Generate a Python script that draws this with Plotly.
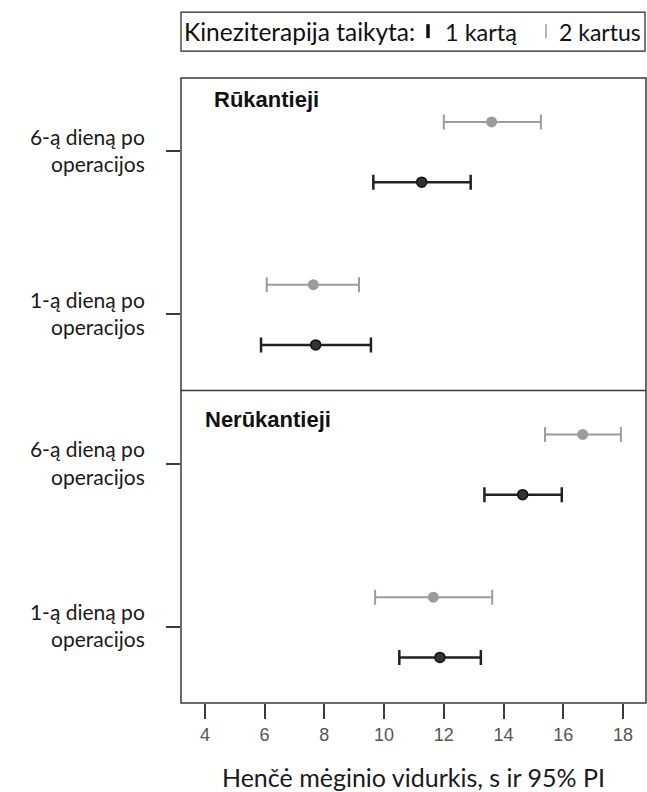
import plotly.graph_objects as go
from plotly.subplots import make_subplots

# ---- data ----
panels = ["Rūkantieji", "Nerūkantieji"]
day_labels = ["1-ą dieną po<br>operacijos", "6-ą dieną po<br>operacijos"]
day_pos = [0, 1]

# Rūkantieji
smk_once_mean = [7.71, 11.26]
smk_once_low = [5.88, 9.64]
smk_once_high = [9.56, 12.90]
smk_twice_mean = [7.63, 13.60]
smk_twice_low = [6.07, 12.00]
smk_twice_high = [9.16, 15.25]

# Nerūkantieji
non_once_mean = [11.87, 14.64]
non_once_low = [10.51, 13.36]
non_once_high = [13.24, 15.95]
non_twice_mean = [11.65, 16.65]
non_twice_low = [9.70, 15.39]
non_twice_high = [13.62, 17.93]

x_ticks = [4, 6, 8, 10, 12, 14, 16, 18]
legend_title = "Kineziterapija taikyta:"
legend_names = ["1 kartą", "2 kartus"]
x_title = "Henčė mėginio vidurkis, s ir 95% PI"

HUM = "Lato, 'Open Sans', sans-serif"
ARI = "'Liberation Sans', Arial, sans-serif"
BLACK = "#222222"
GRAY = "#9c9c9c"
AXC = "#3a3a3a"

W, H = 647, 792
L, R, T, B = 181, 1, 78, 87
PW = W - L - R
PH = H - T - B


def px_x(px):
    return (px - L) / PW


def px_y(py):
    return 1 - (py - T) / PH


fig = make_subplots(rows=2, cols=1, shared_xaxes=True, vertical_spacing=0)


def add_series(row, mean, low, high, kind):
    if kind == "once":
        off, col, lw, msize, mline, fill, lcol = -0.19, BLACK, 2.5, 10, 1.5, "#333333", "#111111"
    else:
        off, col, lw, msize, mline, fill, lcol = 0.18, GRAY, 2.0, 11, 0, GRAY, GRAY
    y = [p + off for p in day_pos]
    plus = [h - m for h, m in zip(high, mean)]
    minus = [m - l for m, l in zip(mean, low)]
    fig.add_trace(go.Scatter(
        x=mean, y=y, mode="markers", showlegend=False,
        marker=dict(size=msize, color=fill, line=dict(color=lcol, width=mline)),
        error_x=dict(type="data", array=plus, arrayminus=minus, color=col,
                     thickness=lw, width=7.5),
    ), row=row, col=1)


add_series(1, smk_twice_mean, smk_twice_low, smk_twice_high, "twice")
add_series(1, smk_once_mean, smk_once_low, smk_once_high, "once")
add_series(2, non_twice_mean, non_twice_low, non_twice_high, "twice")
add_series(2, non_once_mean, non_once_low, non_once_high, "once")

for r in (1, 2):
    fig.update_yaxes(row=r, col=1, range=[-0.47, 1.45], tickmode="array",
                     tickvals=day_pos, ticktext=day_labels,
                     ticks="outside", ticklen=14, tickcolor=AXC, tickwidth=1.5,
                     showline=False, showgrid=False, zeroline=False, ticklabelstandoff=17,
                     tickfont=dict(family=HUM, size=21, color="#1a1a1a"))
    fig.update_xaxes(row=r, col=1, range=[3.2, 18.77], showline=False,
                     showgrid=False, zeroline=False)

fig.update_xaxes(row=2, col=1, tickmode="array", tickvals=x_ticks,
                 ticks="outside", ticklen=15, tickcolor=AXC, tickwidth=1.5,
                 tickfont=dict(family=ARI, size=18, color="#555555"),
                 title=dict(text=x_title,
                            font=dict(family=HUM, size=25, color="#1a1a1a"), standoff=29))
fig.update_xaxes(row=1, col=1, showticklabels=False, ticks="")

# frame and divider
fig.add_shape(type="rect", xref="paper", yref="paper", x0=0, x1=1, y0=0, y1=1,
              line=dict(color=AXC, width=1.5), layer="above")
fig.add_shape(type="line", xref="paper", yref="paper", x0=0, x1=1, y0=0.5, y1=0.5,
              line=dict(color=AXC, width=1.5), layer="above")

# panel labels
fig.add_annotation(x=px_x(212), y=px_y(100), xref="paper", yref="paper",
                   text="<b>" + panels[0] + "</b>", showarrow=False,
                   xanchor="left", yanchor="middle",
                   font=dict(family=ARI, size=22, color="#111111"))
fig.add_annotation(x=px_x(203), y=px_y(421), xref="paper", yref="paper",
                   text="<b>" + panels[1] + "</b>", showarrow=False,
                   xanchor="left", yanchor="middle",
                   font=dict(family=ARI, size=22, color="#111111"))

# legend box
fig.add_shape(type="rect", xref="paper", yref="paper", x0=px_x(181), x1=px_x(645),
              y0=px_y(51), y1=px_y(12), line=dict(color="#222222", width=1.2),
              fillcolor="white")
ly = px_y(31.5)
fig.add_annotation(x=px_x(182), y=ly, xref="paper", yref="paper", showarrow=False,
                   xanchor="left", yanchor="middle", text=legend_title,
                   font=dict(family=HUM, size=24.5, color="#111111"))
fig.add_shape(type="line", xref="paper", yref="paper", x0=px_x(428), x1=px_x(428),
              y0=px_y(38), y1=px_y(24), line=dict(color="#111111", width=3.5))
fig.add_annotation(x=px_x(443), y=ly, xref="paper", yref="paper", showarrow=False,
                   xanchor="left", yanchor="middle", text=legend_names[0],
                   font=dict(family=HUM, size=23.5, color="#111111"))
fig.add_shape(type="line", xref="paper", yref="paper", x0=px_x(546), x1=px_x(546),
              y0=px_y(38), y1=px_y(24), line=dict(color=GRAY, width=1.5))
fig.add_annotation(x=px_x(643), y=ly, xref="paper", yref="paper", showarrow=False,
                   xanchor="right", yanchor="middle", text=legend_names[1],
                   font=dict(family=HUM, size=23, color="#111111"))

fig.update_layout(width=W, height=H, margin=dict(l=L, r=R, t=T, b=B),
                  plot_bgcolor="white", paper_bgcolor="white")

fig.write_html("out.html", config={"displayModeBar": False},
               post_script="document.body.style.margin='0';document.body.style.overflow='hidden';")
